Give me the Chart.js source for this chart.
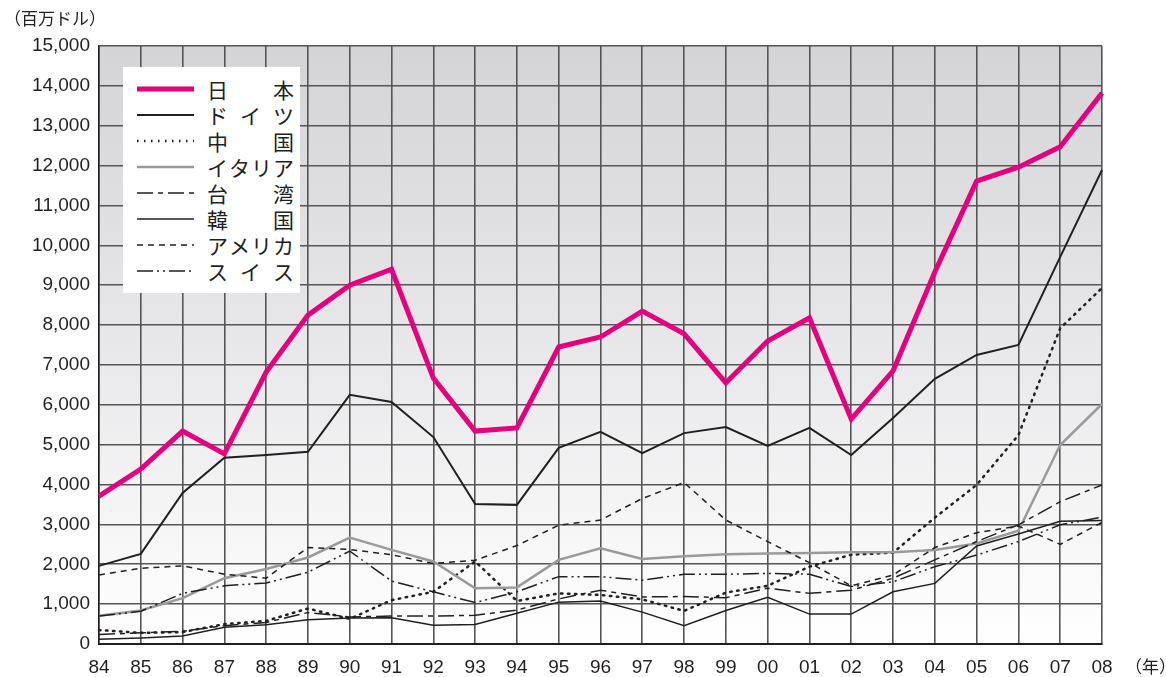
<!DOCTYPE html>
<html lang="ja">
<head>
<meta charset="utf-8">
<script src="https://cdn.jsdelivr.net/npm/chart.js@4.4.1/dist/chart.umd.min.js"></script>
<style>
  html, body { margin: 0; padding: 0; background: #fff; }
  #wrap { position: relative; width: 1166px; height: 677px; font-family: "Noto Sans CJK JP", sans-serif; color: #231f20; }
  #unit { position: absolute; left: 4px; top: 5px; font-size: 17px; }
  #nen { position: absolute; left: 1125px; top: 653px; font-size: 17px; }
  #legend { position: absolute; left: 123px; top: 67px; width: 177px; height: 226px; background: #fff; }
  .row { position: absolute; left: 0; height: 26px; width: 177px; }
  .row svg { position: absolute; left: 14px; top: 0; }
  .row .txt { position: absolute; left: 84px; width: 87px; top: 0; height: 26px; line-height: 26px; font-size: 21px; display: flex; justify-content: space-between; }
</style>
</head>
<body>
<div id="wrap">
  <canvas id="grafico" width="1166" height="677"></canvas>
  <div id="unit">（百万ドル）</div>
  <div id="nen">（年）</div>
  <div id="legend"></div>
</div>
<script>
// dados
const anos = ['84','85','86','87','88','89','90','91','92','93','94','95','96','97','98','99','00','01','02','03','04','05','06','07','08'];
const japao    = [3710,4390,5340,4770,6820,8250,9000,9400,6670,5340,5420,7450,7700,8350,7780,6550,7600,8180,5640,6850,9330,11610,11960,12470,13820];
const alemanha = [1960,2260,3790,4670,4740,4820,6250,6070,5190,3510,3490,4920,5320,4790,5290,5440,4970,5420,4740,5670,6650,7250,7500,9710,11890];
const china    = [350,280,300,500,580,890,630,1100,1310,2070,1080,1270,1230,1120,830,1290,1460,1940,2240,2290,3170,3990,5240,7920,8930];
const italia   = [710,840,1150,1650,1880,2170,2670,2360,2070,1400,1420,2110,2400,2130,2200,2250,2270,2280,2300,2300,2360,2520,2840,4990,6020];
const taiwan   = [240,280,320,460,540,790,680,700,700,720,850,1130,1350,1180,1190,1160,1400,1270,1350,1650,2110,2570,2990,3570,3990];
const coreia   = [120,150,200,420,480,610,650,660,470,490,770,1050,1080,800,460,840,1170,750,750,1310,1520,2460,2760,3080,3100];
const eua      = [1730,1900,1960,1750,1650,2420,2370,2240,2020,2100,2470,2980,3110,3650,4050,3110,2570,2040,1460,1730,2420,2790,2960,2500,3050];
const suica    = [700,820,1270,1460,1530,1800,2330,1580,1310,1040,1310,1690,1690,1600,1750,1750,1770,1750,1440,1560,1940,2230,2570,2990,3180];

const series = [
    { nome: ['日', '本'], dados: japao, cor: '#e6007e', largura: 5, tracejado: [] },
    { nome: ['ド', 'イ', 'ツ'], dados: alemanha, cor: '#231f20', largura: 2, tracejado: [] },
    { nome: ['中', '国'], dados: china, cor: '#231f20', largura: 2.5, tracejado: [1.5, 5.5] },
    { nome: ['イ', 'タ', 'リ', 'ア'], dados: italia, cor: '#9a9a9c', largura: 2.5, tracejado: [] },
    { nome: ['台', '湾'], dados: taiwan, cor: '#231f20', largura: 1.5, tracejado: [16, 5, 5, 5] },
    { nome: ['韓', '国'], dados: coreia, cor: '#231f20', largura: 1.5, tracejado: [] },
    { nome: ['ア', 'メ', 'リ', 'カ'], dados: eua, cor: '#231f20', largura: 1.5, tracejado: [6, 5] },
    { nome: ['ス', 'イ', 'ス'], dados: suica, cor: '#231f20', largura: 1.5, tracejado: [16, 4, 2, 4, 2, 4] }
];

// legenda em HTML
const legenda = document.getElementById('legend');
series.forEach((s, i) => {
    const row = document.createElement('div');
    row.className = 'row';
    row.style.top = (9 + i * 26) + 'px';
    const dash = s.tracejado.length ? s.tracejado.join(' ') : 'none';
    row.innerHTML = '<svg width="58" height="26"><line x1="0" y1="13" x2="57" y2="13" stroke="' + s.cor +
        '" stroke-width="' + s.largura + '" stroke-dasharray="' + dash + '"/></svg>' +
        '<div class="txt">' + s.nome.map(c => '<span>' + c + '</span>').join('') + '</div>';
    legenda.appendChild(row);
});

// fundo em degradê da área do gráfico
const fundo = {
    id: 'fundo',
    beforeDraw(chart) {
        const { ctx, chartArea: a } = chart;
        const g = ctx.createLinearGradient(0, a.top, 0, a.bottom);
        g.addColorStop(0, '#d4d4d7');
        g.addColorStop(0.55, '#eaeaec');
        g.addColorStop(1, '#ffffff');
        ctx.save();
        ctx.fillStyle = g;
        ctx.fillRect(a.left, a.top, a.right - a.left, a.bottom - a.top);
        ctx.restore();
    }
};

const fonteEixo = { family: '"Liberation Sans", Arial, sans-serif', size: 19 };

const ctx = document.getElementById('grafico').getContext('2d');
const chart = new Chart(ctx, {
    type: 'line',
    data: {
        labels: anos,
        datasets: series.map(s => ({
            label: s.nome.join(''),
            data: s.dados,
            borderColor: s.cor,
            borderWidth: s.largura,
            borderDash: s.tracejado,
            borderCapStyle: s.tracejado.length && s.tracejado[0] < 2 ? 'round' : 'butt',
            pointRadius: 0,
            tension: 0,
            fill: false
        })).reverse()
    },
    options: {
        responsive: false,
        animation: false,
        layout: { padding: { left: 0, right: 64, top: 46, bottom: 0 } },
        plugins: { legend: { display: false }, tooltip: { enabled: false } },
        scales: {
            x: {
                type: 'category',
                offset: false,
                afterFit: s => { s.height = 33; },
                grid: {
                    color: '#555555',
                    lineWidth: 1.6,
                    drawTicks: false
                },
                border: { color: '#231f20', width: 2 },
                ticks: { color: '#231f20', font: fonteEixo, padding: 12, maxRotation: 0, autoSkip: false }
            },
            y: {
                min: 0,
                max: 15000,
                afterFit: s => { s.width = 99; },
                grid: { color: '#555555', lineWidth: 1.6, drawTicks: false },
                border: { color: '#231f20', width: 1.5 },
                ticks: {
                    stepSize: 1000,
                    color: '#231f20',
                    font: fonteEixo,
                    padding: 9,
                    callback: v => v.toLocaleString('en-US')
                }
            }
        }
    },
    plugins: [fundo]
});
</script>
</body>
</html>
